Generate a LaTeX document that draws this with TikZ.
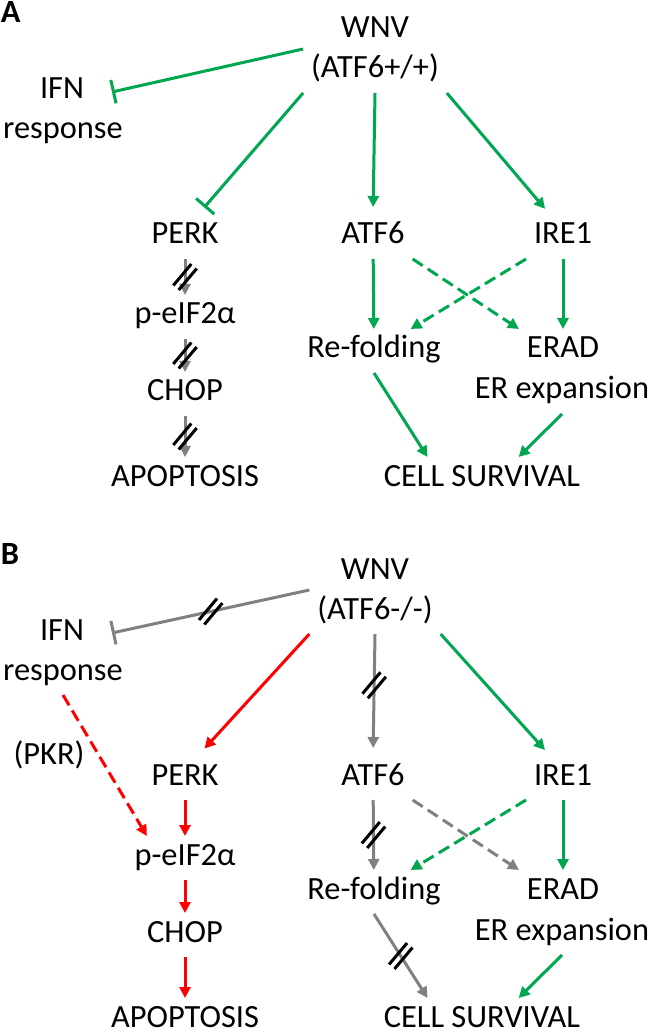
\documentclass[tikz,border=0pt]{standalone}
\usepackage{fontspec}
\setmainfont{Carlito}
\usetikzlibrary{arrows.meta,decorations.markings}

\definecolor{grn}{RGB}{0,166,80}
\definecolor{gry}{RGB}{128,128,128}
\definecolor{rd}{RGB}{255,0,0}

\tikzset{
  txt/.style={font=\fontsize{16.2}{20}\selectfont, inner sep=0pt, outer sep=4pt,
    text height=10.5pt, text depth=3.5pt, anchor=base},
  tag/.style={txt, font=\fontsize{16.2}{20}\selectfont\bfseries, anchor=base west},
  act/.style={line width=1.5pt, -{Triangle[length=5.5pt,width=5.5pt]}},
  inh/.style={line width=1.5pt, -{Bar[width=12pt]}},
  dsh/.style={dash pattern=on 6pt off 3pt},
  % the black double slash across a blocked step
  brk/.style={postaction={decorate, decoration={markings, mark=at position #1 with {
    \pgftransformresetnontranslations
    \draw[-, shorten >=0pt, shorten <=0pt, solid, black, line width=1.5pt]
      (-5.85pt,-4.23pt) -- (3.15pt,6.49pt) (-3.15pt,-6.49pt) -- (5.85pt,4.23pt);}}}},
  brk/.default=0.5
}

\begin{document}
\begin{tikzpicture}[x=0.5pt, y=-0.5pt]
  \useasboundingbox (0,0) rectangle (650,1036);

  % The same nodes in both panels
  \foreach \p/\dy/\gt in {A/0/{(ATF6+/+)}, B/541/{(ATF6-/-)}} {
    \node[tag] (tag\p) at (-7, 23+\dy) {\p};
    \node[txt] (wnv\p) at (375, 38+\dy) {WNV};
    \node[txt] (gt\p) at (375, 78+\dy) {\gt};
    \node[txt] (ifn\p) at (62, 99+\dy) {IFN};
    \node[txt] (resp\p) at (63, 139+\dy) {response};
    \node[txt] (perk\p) at (185, 244+\dy) {PERK};
    \node[txt] (atf\p) at (373, 244+\dy) {ATF6};
    \node[txt] (ire\p) at (563, 244+\dy) {IRE1};
    \node[txt] (eif\p) at (185, 324+\dy) {p-eIF2α};
    \node[txt] (ref\p) at (374, 358+\dy) {Re-folding};
    \node[txt] (erad\p) at (563, 358+\dy) {ERAD};
    \node[txt] (chop\p) at (185, 401+\dy) {CHOP};
    \node[txt] (erx\p) at (562, 399+\dy) {ER expansion};
    \node[txt] (apop\p) at (185, 486+\dy) {APOPTOSIS};
    \node[txt] (cell\p) at (482, 486+\dy) {CELL SURVIVAL};
  }
  \node[txt] (pkrB) at (49, 764) {(PKR)};

  % Panel A: wild type
  \draw[inh, grn] (gtA.north west) -- ([xshift=10pt]ifnA.east);
  \draw[inh, grn, shorten >=5pt] (gtA.south west) -- (perkA.60);
  \draw[act, grn, shorten >=4pt] (gtA.south) -- (atfA.north);
  \draw[act, grn, shorten >=4pt] (gtA.south east) -- (ireA.120);
  \draw[act, gry, brk] (perkA) -- (eifA);
  \draw[act, gry, brk] (eifA) -- (chopA);
  \draw[act, gry, brk] (chopA) -- (apopA);
  \draw[act, grn] (atfA) -- (refA);
  \draw[act, grn] (ireA) -- (eradA);
  \draw[act, grn, dsh] (atfA.south east) -- (eradA.north west);
  \draw[act, grn, dsh] (ireA.south west) -- (refA.31);
  \draw[act, grn] (refA.south) -- (cellA.158);
  \draw[act, grn] (erxA.south) -- (cellA.31);

  % Panel B: ATF6 knock-out
  \draw[inh, gry, brk] (gtB.north west) -- ([xshift=10pt]ifnB.east);
  \draw[act, rd, shorten >=5pt] (gtB.south west) -- (perkB.60);
  \draw[act, gry, brk=0.42, shorten >=4pt] (gtB.south) -- (atfB.north);
  \draw[act, grn, shorten >=4pt] (gtB.south east) -- (ireB.120);
  \draw[act, rd, dsh] (respB.south) -- (eifB.150);
  \draw[act, rd] (perkB) -- (eifB);
  \draw[act, rd] (eifB) -- (chopB);
  \draw[act, rd] (chopB) -- (apopB);
  \draw[act, gry, brk] (atfB) -- (refB);
  \draw[act, grn] (ireB) -- (eradB);
  \draw[act, gry, dsh] (atfB.south east) -- (eradB.north west);
  \draw[act, grn, dsh] (ireB.south west) -- (refB.31);
  \draw[act, gry, brk] (refB.south) -- (cellB.158);
  \draw[act, grn] (erxB.south) -- (cellB.31);
\end{tikzpicture}
\end{document}
